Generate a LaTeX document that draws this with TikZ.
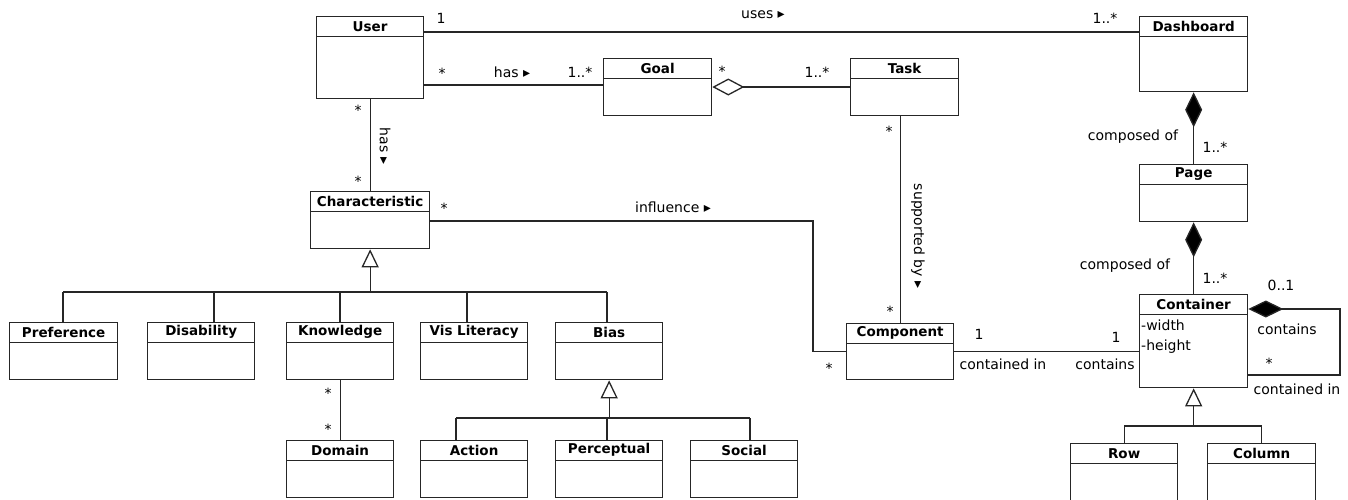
\documentclass[tikz,border=0pt]{standalone}
\usepackage{fontspec}
\setmainfont{DejaVu Sans}
\usetikzlibrary{arrows.meta}

\tikzset{
    classbox/.style={draw=black!85, line width=1.3pt, rectangle, anchor=north west, inner sep=0pt,
        path picture={\draw[black!85, line width=1.3pt] ([yshift=-20pt]path picture bounding box.north west) -- ([yshift=-20pt]path picture bounding box.north east);}},
    classname/.style={anchor=north, minimum height=20pt, inner sep=0pt, font=\fontsize{13.5}{15}\selectfont\bfseries},
    attr/.style={anchor=north west, align=left, inner xsep=2pt, inner ysep=6pt, font=\fontsize{14}{20}\selectfont},
    lbl/.style={inner sep=0pt, font=\fontsize{14}{16}\selectfont},
    assoc/.style={draw=black!85, line width=1.3pt},
    aggr/.style={assoc, {Diamond[open, length=32pt, width=17pt]}-},
    comp/.style={assoc, {Diamond[length=35pt, width=17pt, fill=black]}-},
    gen/.style={assoc, {Triangle[open, length=18pt, width=17pt]}-}
}

\begin{document}
\begin{tikzpicture}[x=1pt, y=-1pt]
        \useasboundingbox (0,0) rectangle (1348,499);

        % classes
        \node[classbox, minimum width=107pt, minimum height=82pt, label={[classname]north:User}] (User) at (316,16) {};
        \node[classbox, minimum width=108pt, minimum height=75pt, label={[classname]north:Dashboard}] (Dashboard) at (1139,16) {};
        \node[classbox, minimum width=108pt, minimum height=57pt, label={[classname]north:Goal}] (Goal) at (603,58) {};
        \node[classbox, minimum width=108pt, minimum height=57pt, label={[classname]north:Task}] (Task) at (850,58) {};
        \node[classbox, minimum width=119pt, minimum height=57pt, label={[classname]north:Characteristic}] (Characteristic) at (310,191) {};
        \node[classbox, minimum width=108pt, minimum height=57pt, label={[classname]north:Page}] (Page) at (1139,164) {};
        \node[classbox, minimum width=108pt, minimum height=93pt, label={[classname]north:Container}] (Container) at (1139,294) {};
        \node[attr] (ContainerAttr) at ([yshift=-20pt]Container.north west) {-width\\-height};
        \node[classbox, minimum width=107pt, minimum height=56pt, label={[classname]north:Component}] (Component) at (846,323) {};

        \node[classbox, minimum width=108pt, minimum height=57pt, label={[classname]north:Preference}] (Preference) at (9,322) {};
        \node[classbox, minimum width=107pt, minimum height=57pt, label={[classname]north:Disability}] (Disability) at (147,322) {};
        \node[classbox, minimum width=107pt, minimum height=57pt, label={[classname]north:Knowledge}] (Knowledge) at (286,322) {};
        \node[classbox, minimum width=107pt, minimum height=57pt, label={[classname]north:Vis Literacy}] (VisLiteracy) at (420,322) {};
        \node[classbox, minimum width=107pt, minimum height=57pt, label={[classname]north:Bias}] (Bias) at (555,322) {};

        \node[classbox, minimum width=107pt, minimum height=57pt, label={[classname]north:Domain}] (Domain) at (286,440) {};
        \node[classbox, minimum width=107pt, minimum height=57pt, label={[classname]north:Action}] (Action) at (420,440) {};
        \node[classbox, minimum width=107pt, minimum height=57pt, label={[classname]north:Perceptual}] (Perceptual) at (555,440) {};
        \node[classbox, minimum width=107pt, minimum height=57pt, label={[classname]north:Social}] (Social) at (690,440) {};

        \node[classbox, minimum width=107pt, minimum height=57pt, label={[classname]north:Row}] (Row) at (1070,443) {};
        \node[classbox, minimum width=108pt, minimum height=57pt, label={[classname]north:Column}] (Column) at (1207,443) {};

        % associations
        \draw[assoc] (User.east |- 0,32) -- (Dashboard.west |- 0,32);
        \node[lbl] (usesA) at (441,18) {1};
        \node[lbl] (uses) at (763,15) {uses ▸};
        \node[lbl] (usesB) at (1105,18) {1..*};

        \draw[assoc] (User.east |- 0,85) -- (Goal.west |- 0,85);
        \node[lbl] (hasA) at (442,73) {*};
        \node[lbl] (has) at (512,72) {has ▸};
        \node[lbl] (hasB) at (580,72) {1..*};

        \draw[aggr] (Goal.east |- 0,87) -- (Task.west |- 0,87);
        \node[lbl] (aggrA) at (722,71) {*};
        \node[lbl] (aggrB) at (817,72) {1..*};

        \draw[assoc] (User.south) -- (Characteristic.north);
        \node[lbl] (charA) at (358,110) {*};
        \node[lbl, rotate=-90] (charhas) at (385,146) {has ▸};
        \node[lbl] (charB) at (358,181) {*};

        \draw[assoc] (Characteristic.east |- 0,221) -| (Component.west -| 813,0) -- (Component.west);
        \node[lbl] (inflA) at (444,208) {*};
        \node[lbl] (infl) at (673,207) {influence ▸};
        \node[lbl] (inflB) at (829,368) {*};

        \draw[assoc] (Component.north |- Task.south) -- (Component.north);
        \node[lbl] (suppA) at (889,131) {*};
        \node[lbl, rotate=-90] (supp) at (918,236) {supported by ▸};
        \node[lbl] (suppB) at (890,311) {*};

        \draw[assoc] (Component.east) -- (Container.west |- Component.east);
        \node[lbl] (contA) at (979,334) {1};
        \node[lbl] (continA) at (1003,364) {contained in};
        \node[lbl] (contB) at (1116,337) {1};
        \node[lbl] (containsB) at (1105,364) {contains};

        \draw[assoc] (Knowledge.south) -- (Domain.north);
        \node[lbl] (domA) at (328,393) {*};
        \node[lbl] (domB) at (328,429) {*};

        % compositions
        \draw[comp] (Dashboard.south) -- (Page.north);
        \node[lbl] (compA) at (1133,137) {composed of};
        \node[lbl] (compB) at (1215,147) {1..*};

        \draw[comp] (Page.south) -- (Container.north);
        \node[lbl] (compC) at (1125,266) {composed of};
        \node[lbl] (compD) at (1215,278) {1..*};

        \coordinate (loopA) at (1340,309);
        \coordinate (loopB) at (1340,375);
        \draw[comp] (Container.east |- loopA) -- (loopA) -- (loopB) -- (Container.east |- loopB);
        \node[lbl] (loopC) at (1281,285) {0..1};
        \node[lbl] (loopD) at (1287,329) {contains};
        \node[lbl] (loopE) at (1269,363) {*};
        \node[lbl] (loopF) at (1297,389) {contained in};

        % generalizations
        \draw[gen] (Characteristic.south) -- (Characteristic.south |- 0,292);
        \draw[assoc] (63,292) -- (607,292);
        \foreach \cls/\x in {Preference/63, Disability/214, Knowledge/340, VisLiteracy/467, Bias/607}
            \draw[assoc] (\x,292) -- (\cls.north -| \x,292);

        \draw[gen] (Bias.south) -- (Bias.south |- 0,418);
        \draw[assoc] (456,418) -- (750,418);
        \foreach \cls/\x in {Action/456, Perceptual/607, Social/750}
            \draw[assoc] (\x,418) -- (\cls.north -| \x,418);

        \draw[gen] (Container.south) -- (Container.south |- 0,426);
        \draw[assoc] (Row.north |- 0,426) -- (Column.north |- 0,426);
        \draw[assoc] (Row.north |- 0,426) -- (Row.north);
        \draw[assoc] (Column.north |- 0,426) -- (Column.north);
    \end{tikzpicture}
\end{document}
